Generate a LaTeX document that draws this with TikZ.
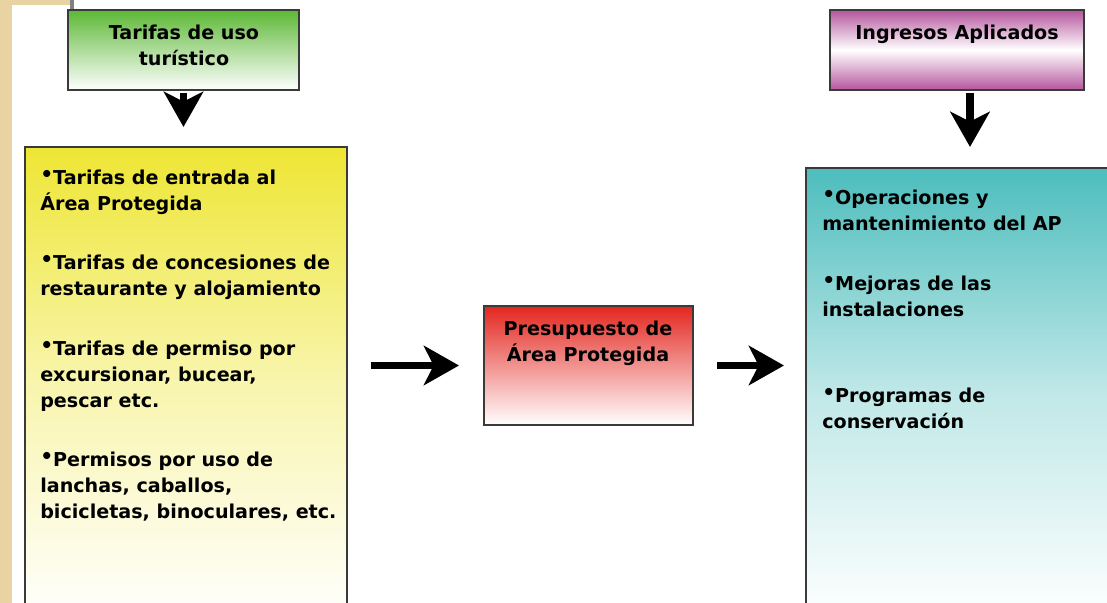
\documentclass[tikz,border=0pt]{standalone}
\usepackage{fontspec}
\setmainfont{DejaVu Sans}
\usetikzlibrary{positioning,arrows.meta}

\newcommand{\itemDot}{\raisebox{0.3ex}{\Large•}}

\begin{document}
\begin{tikzpicture}[x=0.025cm, y=-0.025cm,
    font=\bfseries\fontsize{13.6}{18.5}\selectfont,
    box/.style={draw=borderColour, line width=1.4pt, inner sep=0pt},
    item text/.style={inner sep=0pt, align=left, anchor=north west},
    title text/.style={inner sep=0pt, align=center, anchor=north},
    bigarrow/.style={line width=5.5pt, -{Stealth[length=25pt, width=28pt, inset=7pt]}}]
    \definecolor{borderColour}{HTML}{3A3A3A}
    \definecolor{sandColour}{HTML}{EAD3A2}
    \definecolor{greenTop}{HTML}{5CB835}
    \definecolor{yellowTop}{HTML}{EEE634}
    \definecolor{redTop}{HTML}{E3261F}
    \definecolor{magentaTop}{HTML}{B5559E}
    \definecolor{tealTop}{HTML}{4DBDBD}

    \useasboundingbox (0,0) rectangle (1107,603);

    % background scrap
    \fill[sandColour] (0,0) rectangle (12,603);
    \fill[sandColour] (0,0) rectangle (70,5);
    \fill[gray] (70,0) rectangle (74,10);

    % sources
    \node[box, top color=greenTop, bottom color=white, minimum width=5.775cm, minimum height=2cm] (uso) at (183.5,50) {};
    \node[title text] (usoText) at (184,25) {Tarifas de uso\\turístico};

    \node[box, top color=yellowTop, bottom color=white, middle color=yellowTop!40!white, minimum width=8.05cm, minimum height=11.825cm] (entradas) at (186,383.5) {};
    \node[item text] (entradaA) at (40,170) {\itemDot Tarifas de entrada al\\Área Protegida};
    \node[item text] (entradaB) at (40,255) {\itemDot Tarifas de concesiones de\\restaurante y alojamiento};
    \node[item text] (entradaC) at (40,341) {\itemDot Tarifas de permiso por\\excursionar, bucear,\\pescar etc.};
    \node[item text] (entradaD) at (40,452) {\itemDot Permisos por uso de\\lanchas, caballos,\\bicicletas, binoculares, etc.};

    % budget
    \node[box, top color=redTop, bottom color=white, minimum width=5.225cm, minimum height=2.975cm] (presupuesto) at (588.5,365.5) {};
    \node[title text] (presupuestoText) at (588,321) {Presupuesto de\\Área Protegida};

    % uses
    \node[box, top color=magentaTop, bottom color=magentaTop, middle color=white, minimum width=6.35cm, minimum height=2cm] (ingresos) at (957,50) {};
    \node[title text] (ingresosText) at (957,25) {Ingresos Aplicados};

    \node[box, top color=tealTop, bottom color=white, middle color=tealTop!35!white, minimum width=8.2cm, minimum height=11.3cm] (aplicaciones) at (970,394) {};
    \node[item text] (aplicacionA) at (822,190) {\itemDot Operaciones y\\mantenimiento del AP};
    \node[item text] (aplicacionB) at (822,276) {\itemDot Mejoras de las\\instalaciones};
    \node[item text] (aplicacionC) at (822,388) {\itemDot Programas de\\conservación};

    \draw[bigarrow, shorten <=0.05cm, shorten >=0.475cm] (uso.south) -- (uso.south |- entradas.north);
    \draw[bigarrow, shorten <=0.575cm, shorten >=0.6cm] (presupuesto.west -| entradas.east) -- (presupuesto.west);
    \draw[bigarrow, shorten <=0.575cm, shorten >=0.525cm] (presupuesto.east) -- (presupuesto.east -| aplicaciones.west);
    \draw[bigarrow, shorten <=0.05cm, shorten >=0.5cm] (ingresos.south -| aplicaciones.north) -- (aplicaciones.north);

\end{tikzpicture}
\end{document}
